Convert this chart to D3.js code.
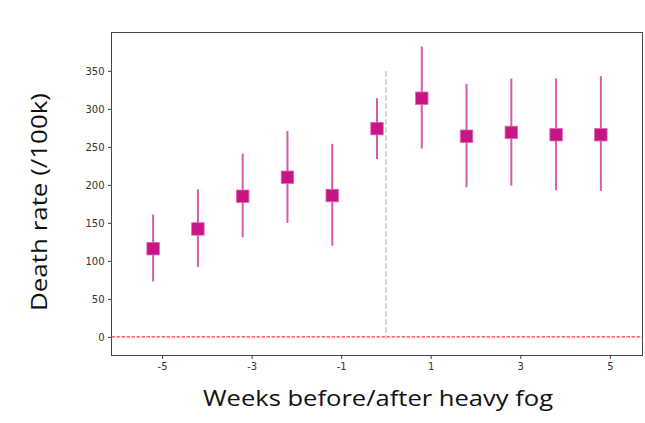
<!DOCTYPE html>
<html>
<head>
<meta charset="utf-8">
<script src="https://cdn.jsdelivr.net/npm/d3@7"></script>
<style>
  body { margin: 0; background: #fff; }
  svg { display: block; }
</style>
</head>
<body>
<svg id="chart" width="645" height="423"></svg>
<script>
// weeks relative to the heavy fog event (points are drawn shifted left by 0.2)
const weeks = [-5, -4, -3, -2, -1, 0, 1, 2, 3, 4, 5];
const rates = [116, 142, 185, 210, 186, 274, 314, 264, 269, 266, 266];
const lower = [73, 92, 131, 150, 120, 234, 248, 197, 199, 193, 192];
const upper = [161, 194, 241, 271, 254, 314, 382, 333, 340, 340, 343];
const xTicks = [-5, -3, -1, 1, 3, 5];
const yTicks = [0, 50, 100, 150, 200, 250, 300, 350];

const svg = d3.select("#chart");

const plotLeft = 111.5, plotRight = 642.5, plotTop = 32.5, plotBottom = 355.5;

const x = d3.scaleLinear().domain([-6.13, 5.73]).range([plotLeft, plotRight]);
const y = d3.scaleLinear().domain([-24.5, 400.5]).range([plotBottom, plotTop]);

const offset = -0.2;
const pink = "#c71585";
const barPink = "#d85aaa";

// frame
svg.append("rect")
    .attr("x", plotLeft).attr("y", plotTop)
    .attr("width", plotRight - plotLeft).attr("height", plotBottom - plotTop)
    .attr("fill", "none").attr("stroke", "#444").attr("stroke-width", 1);

// axes
const xAxis = svg.append("g")
    .attr("transform", `translate(0,${plotBottom})`)
    .call(d3.axisBottom(x).tickValues(xTicks).tickSize(3.5).tickPadding(3.5).tickFormat(d3.format("d")));
const yAxis = svg.append("g")
    .attr("transform", `translate(${plotLeft},0)`)
    .call(d3.axisLeft(y).tickValues(yTicks).tickSize(3.5).tickPadding(3.5));

[xAxis, yAxis].forEach(g => {
    g.select(".domain").remove();
    g.selectAll("line").attr("stroke", "#444");
    g.selectAll("text")
        .attr("fill", "#333")
        .style("font-family", "DejaVu Sans")
        .style("font-size", "10px");
});
xAxis.selectAll("text").text(d => d < 0 ? "-" + Math.abs(d) : d);

// reference lines
svg.append("line")
    .attr("x1", plotLeft).attr("x2", plotRight)
    .attr("y1", y(0)).attr("y2", y(0))
    .attr("stroke", "#ff3b3b").attr("stroke-width", 1.2)
    .attr("stroke-dasharray", "3.5,1.5");

svg.append("line")
    .attr("x1", x(0)).attr("x2", x(0))
    .attr("y1", y(350)).attr("y2", y(-3))
    .attr("stroke", "#d8d8d8").attr("stroke-width", 2)
    .attr("stroke-dasharray", "5.5,2.5");

// error bars
svg.append("g").selectAll("line")
    .data(weeks)
    .join("line")
    .attr("x1", (d) => x(d + offset))
    .attr("x2", (d) => x(d + offset))
    .attr("y1", (d, i) => y(lower[i]))
    .attr("y2", (d, i) => y(upper[i]))
    .attr("stroke", barPink)
    .attr("stroke-width", 2);

// square markers
const s = 12.5;
svg.append("g").selectAll("rect")
    .data(weeks)
    .join("rect")
    .attr("x", (d) => x(d + offset) - s / 2)
    .attr("y", (d, i) => y(rates[i]) - s / 2)
    .attr("width", s)
    .attr("height", s)
    .attr("fill", pink)
    .attr("stroke", "#dc6bb0")
    .attr("stroke-width", 0.8);

// axis titles
svg.append("text")
    .attr("x", 378).attr("y", 406)
    .attr("text-anchor", "middle")
    .attr("textLength", 350)
    .attr("lengthAdjust", "spacingAndGlyphs")
    .style("font-family", "Open Sans")
    .style("font-size", "22.5px")
    .attr("fill", "#111")
    .text("Weeks before/after heavy fog");

svg.append("text")
    .attr("transform", "translate(46.5,202) rotate(-90)")
    .attr("text-anchor", "middle")
    .attr("textLength", 218)
    .attr("lengthAdjust", "spacingAndGlyphs")
    .style("font-family", "Open Sans")
    .style("font-size", "22.5px")
    .attr("fill", "#111")
    .text("Death rate (/100k)");
</script>
</body>
</html>
